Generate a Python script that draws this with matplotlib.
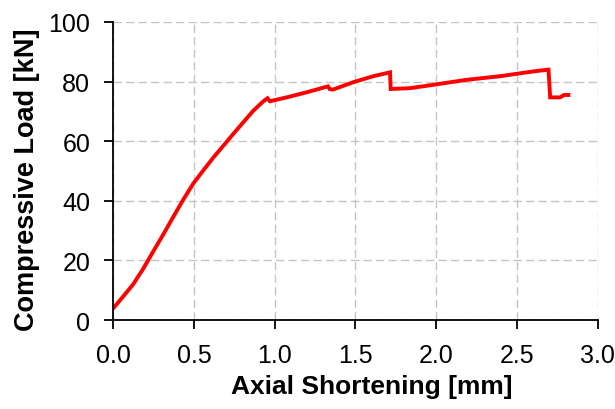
import matplotlib
matplotlib.use('Agg')
import matplotlib.pyplot as plt

# shortening [mm] vs load [kN]
shortening = [0.0, 0.062, 0.124, 0.186, 0.248, 0.31, 0.372, 0.434, 0.496, 0.558,
              0.62, 0.681, 0.743, 0.805, 0.867, 0.93, 0.955, 0.97,
              1.074, 1.198, 1.33, 1.34, 1.36, 1.487, 1.61, 1.714, 1.718, 1.84,
              1.98, 2.19, 2.395, 2.60, 2.695, 2.705, 2.767, 2.79, 2.818]
load = [3.9, 7.9, 12.0, 17.2, 23.0, 28.7, 34.6, 40.4, 45.8, 50.2,
        54.5, 58.4, 62.4, 66.3, 70.2, 73.4, 74.4, 73.4,
        74.7, 76.4, 78.4, 77.5, 77.3, 79.8, 81.8, 83.1, 77.5, 77.8,
        78.9, 80.6, 81.8, 83.4, 84.0, 74.7, 74.7, 75.5, 75.5]

x_ticks = [0.0, 0.5, 1.0, 1.5, 2.0, 2.5, 3.0]
y_ticks = [0, 20, 40, 60, 80, 100]

plt.rcParams['font.family'] = ['Liberation Sans', 'DejaVu Sans']

fig = plt.figure(figsize=(6.15, 4.1), dpi=100)
ax = fig.add_axes([0.184, 0.217, 0.788, 0.727])

ax.plot(shortening, load, color='#ff0000', lw=2.8, solid_joinstyle='miter')

ax.set_xlim(0, 3.0)
ax.set_ylim(0, 100)
ax.set_xticks(x_ticks)
ax.set_xticklabels(['%.1f' % t for t in x_ticks])
ax.set_yticks(y_ticks)
ax.grid(True, color='#c4c4c4', linestyle=(0, (6, 3)), lw=1.0)
ax.set_axisbelow(True)

for s in ['top', 'right']:
    ax.spines[s].set_visible(False)
for s in ['left', 'bottom']:
    ax.spines[s].set_linewidth(1.3)
ax.tick_params(direction='out', length=6.5, width=1.3, labelsize=18)
ax.tick_params(axis='x', pad=10)
ax.tick_params(axis='y', pad=10)

ax.set_xlabel('Axial Shortening [mm]', fontsize=19, fontweight='bold')
ax.set_ylabel('Compressive Load [kN]', fontsize=19.5, fontweight='bold')
ax.xaxis.set_label_coords(0.534, -0.18)
ax.yaxis.set_label_coords(-0.15, 0.475)

fig.savefig('out.png', dpi=100)
